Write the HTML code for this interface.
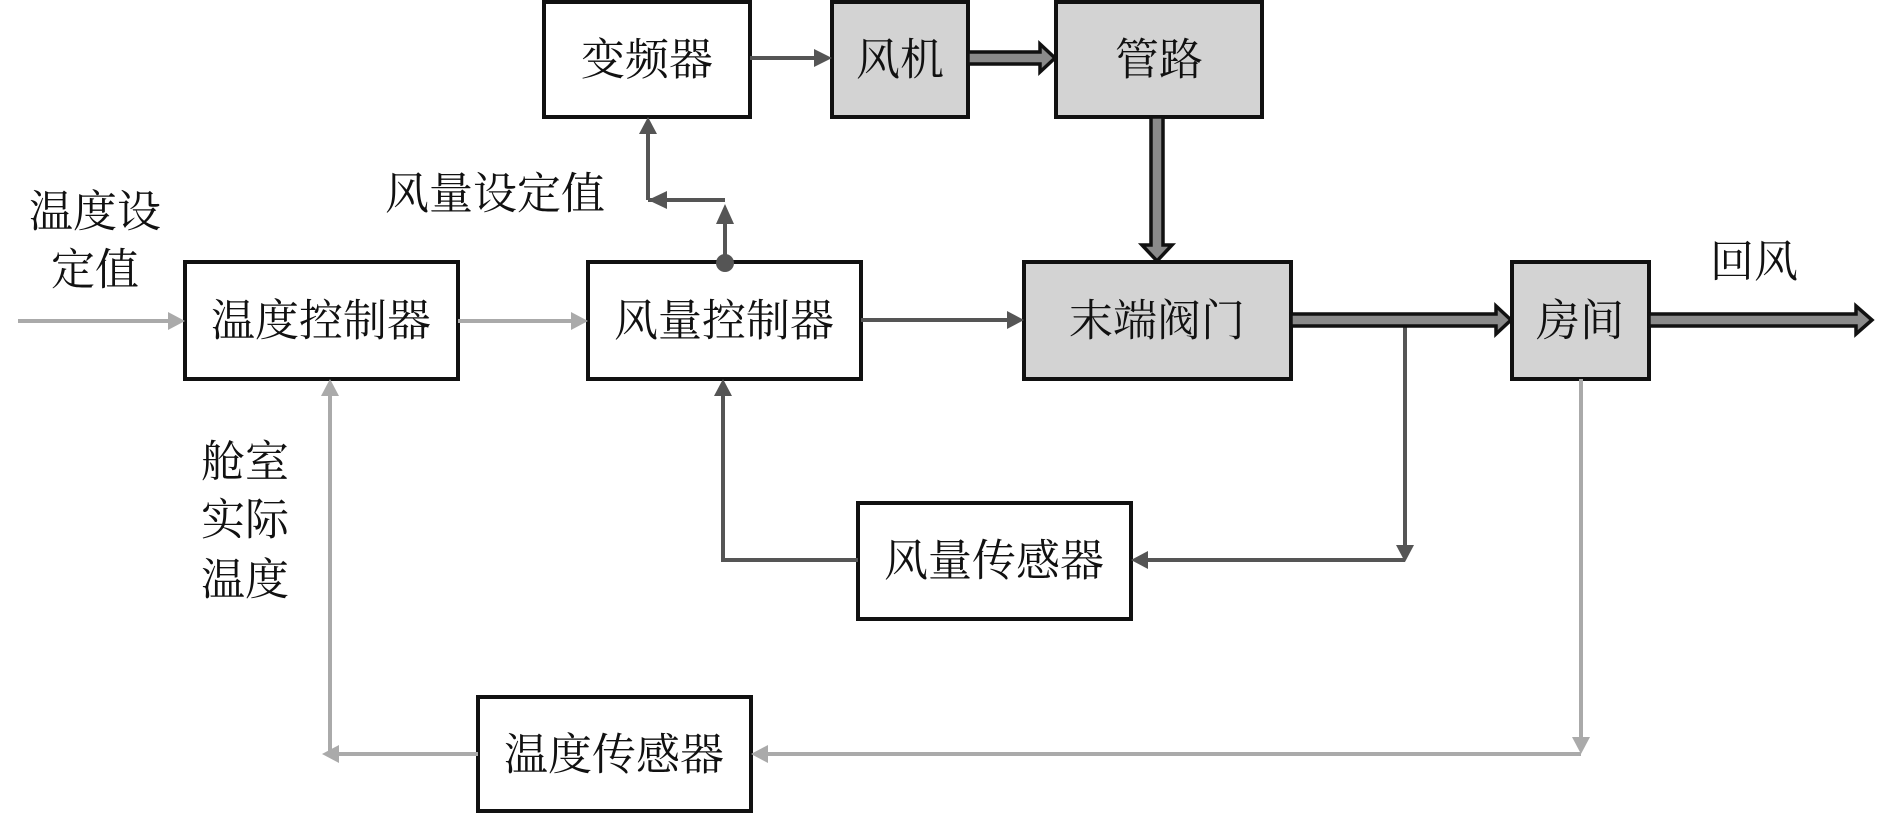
<!DOCTYPE html>
<html><head><meta charset="utf-8"><style>
html,body{margin:0;padding:0;background:#fff;width:1890px;height:816px;overflow:hidden}
svg text{font-family:"Liberation Serif","Noto Serif CJK SC","Noto Sans CJK SC",serif;font-size:44px;fill:#111;dominant-baseline:central;text-anchor:middle}
</style></head><body>
<svg width="1890" height="816" viewBox="0 0 1890 816" xmlns="http://www.w3.org/2000/svg">
<g stroke="#111" stroke-width="4">
<rect x="544" y="2" width="206" height="115" fill="#fff"/>
<rect x="832" y="2" width="136" height="115" fill="#d3d3d3"/>
<rect x="1056" y="2" width="206" height="115" fill="#d3d3d3"/>
<rect x="185" y="262" width="273" height="117" fill="#fff"/>
<rect x="588" y="262" width="273" height="117" fill="#fff"/>
<rect x="1024" y="262" width="267" height="117" fill="#d3d3d3"/>
<rect x="1512" y="262" width="137" height="117" fill="#d3d3d3"/>
<rect x="858" y="503" width="273" height="116" fill="#fff"/>
<rect x="478" y="697" width="273" height="114" fill="#fff"/>
</g>
<!-- light gray lines -->
<g stroke="#aaa" stroke-width="4" fill="none">
<line x1="18" y1="321" x2="170" y2="321"/>
<line x1="458" y1="321" x2="574" y2="321"/>
<polyline points="1581,379 1581,745"/>
<polyline points="1581,754 766,754"/>
<polyline points="478,754 330,754 330,394"/>
</g>
<g fill="#aaa">
<polygon points="185,321 168,312 168,330"/>
<polygon points="588,321 571,312 571,330"/>
<polygon points="1581,754 1572,737 1590,737"/>
<polygon points="751,754 768,745 768,763"/>
<polygon points="322,754 339,745 339,763"/>
<polygon points="330,379 321,396 339,396"/>
</g>
<!-- dark gray lines -->
<g stroke="#555" stroke-width="4" fill="none">
<line x1="750" y1="58" x2="816" y2="58"/>
<line x1="861" y1="320" x2="1008" y2="320"/>
<polyline points="725,263 725,220"/>
<polyline points="725,200 662,200"/>
<polyline points="648,200 648,132"/>
<polyline points="648,200 660,200"/>
<polyline points="1405,320 1405,545"/>
<polyline points="1405,560 1146,560"/>
<polyline points="858,560 723,560 723,394"/>
</g>
<g fill="#555">
<polygon points="832,58 814,49 814,67"/>
<polygon points="1024,320 1007,311 1007,329"/>
<circle cx="725" cy="263" r="9"/>
<polygon points="725,204 716,224 734,224"/>
<polygon points="648,200 667,191 667,209"/>
<polygon points="648,117 639,134 657,134"/>
<polygon points="1405,562 1396,545 1414,545"/>
<polygon points="1131,560 1148,551 1148,569"/>
<polygon points="723,379 714,396 732,396"/>
</g>
<!-- thick arrows -->
<g fill="#8a8a8a" stroke="#111" stroke-width="3.5" stroke-linejoin="miter">
<polygon points="968,52 1040,52 1040,44 1055,58 1040,72 1040,64 968,64"/>
<polygon points="1151,117 1163,117 1163,245 1172,245 1157,261 1142,245 1151,245"/>
<polygon points="1291,314 1496,314 1496,306 1511,320 1496,334 1496,326 1291,326"/>
<polygon points="1649,314 1856,314 1856,306 1872,320 1856,334 1856,326 1649,326"/>
</g>
<text x="647" y="60">变频器</text>
<text x="900" y="60">风机</text>
<text x="1159" y="60">管路</text>
<text x="321" y="321">温度控制器</text>
<text x="724" y="321">风量控制器</text>
<text x="1157" y="321">末端阀门</text>
<text x="1580" y="321">房间</text>
<text x="994" y="561">风量传感器</text>
<text x="614" y="755">温度传感器</text>
<text x="495" y="194">风量设定值</text>
<text x="95" y="212">温度设</text>
<text x="95" y="270">定值</text>
<text x="1754" y="262">回风</text>
<text x="245" y="462">舱室</text>
<text x="245" y="520">实际</text>
<text x="245" y="580">温度</text>
</svg>
</body></html>
